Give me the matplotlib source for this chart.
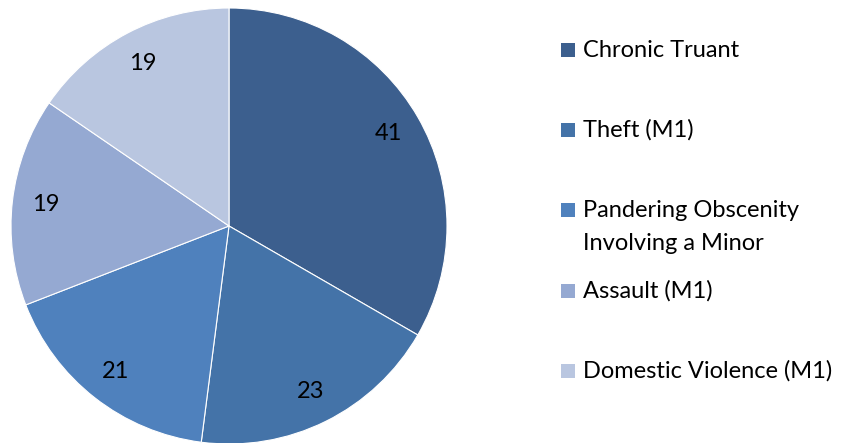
import matplotlib.pyplot as plt
from matplotlib.patches import Rectangle

labels = ["Chronic Truant", "Theft (M1)", "Pandering Obscenity\nInvolving a Minor",
          "Assault (M1)", "Domestic Violence (M1)"]
values = [41, 23, 21, 19, 19]
colors = ["#3C5F8E", "#4473A8", "#4F81BD", "#95A9D2", "#B9C6E0"]

plt.rcParams['font.family'] = ['Lato', 'DejaVu Sans']
FS = 17

W, H = 846, 443
fig = plt.figure(figsize=(W / 100, H / 100), dpi=100)

# pie centre ~ (229, 226) px, radius ~218 px
cx, cy, r = 229, 226, 218
ax = fig.add_axes([(cx - r) / W, (H - cy - r) / H, 2 * r / W, 2 * r / H])
wedges, texts = ax.pie(values, colors=colors, startangle=90, counterclock=False,
                       labels=[str(v) for v in values], labeldistance=0.845,
                       wedgeprops=dict(edgecolor="white", linewidth=0.8),
                       textprops=dict(fontsize=FS, color="black"))
for t in texts:
    t.set_ha("center")
    t.set_va("center")
ax.set_xlim(-1, 1)
ax.set_ylim(-1, 1)
ax.set_aspect("equal")

# legend, drawn by hand to match the spacing of the original
baselines = [57, 137, 217, 298, 378]
line_gap = 33
for lab, col, yb in zip(labels, colors, baselines):
    fig.patches.append(Rectangle((561 / W, (H - yb) / H), 14 / W, 14 / H,
                                 transform=fig.transFigure, facecolor=col,
                                 edgecolor="none"))
    nl = lab.count("\n")
    fig.text(583 / W, (H - yb) / H, lab.split("\n")[0], fontsize=FS,
             ha="left", va="baseline")
    for i, extra in enumerate(lab.split("\n")[1:], start=1):
        fig.text(583 / W, (H - yb - i * line_gap) / H, extra, fontsize=FS,
                 ha="left", va="baseline")

fig.savefig("out.png", dpi=100)
